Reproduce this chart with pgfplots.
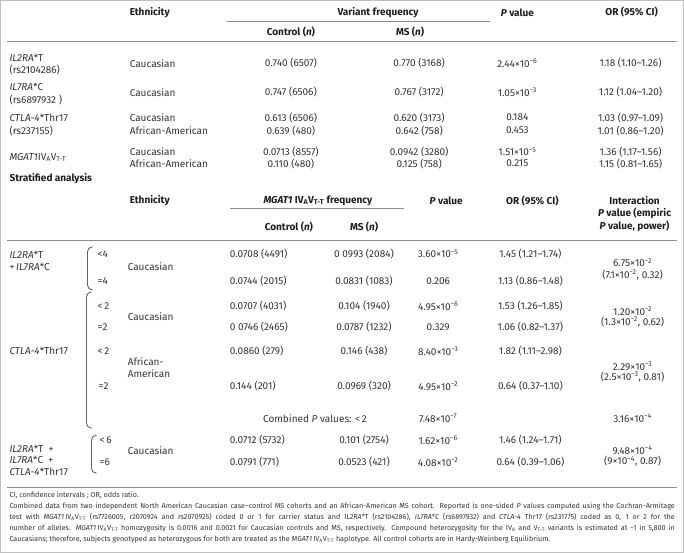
\documentclass[border=0pt]{standalone}
\usepackage{pgfplots}
\pgfplotsset{compat=1.18}
\usepackage{fontspec}
\setmainfont{Fira Sans}
\definecolor{txt}{HTML}{333333}
\definecolor{hdr}{HTML}{1E1E1E}
\definecolor{rule}{HTML}{8C8C8C}
\newcommand{\sx}[1]{\textsuperscript{#1}}
\newcommand{\tm}{\texttimes}
\newcommand{\mg}{\textit{MGAT1}\,IV\textsubscript{A}V\textsubscript{T-T}}
\tikzset{
  b/.style={font=\fontsize{10bp}{12bp}\selectfont, text=txt, inner sep=0pt},
  h/.style={font=\fontsize{10bp}{12bp}\selectfont\bfseries, text=hdr, inner sep=0pt},
  f/.style={font=\fontsize{7.2bp}{11.2bp}\selectfont, text=txt, inner sep=0pt},
}
\begin{document}
\begin{tikzpicture}
\begin{axis}[
  scale only axis, width=684bp, height=553bp,
  xmin=0, xmax=684, ymin=0, ymax=553, y dir=reverse,
  hide axis, clip=false,
  every node/.append style={b},
]
% frame
\addplot[draw=black!25, line width=0.6bp] coordinates {(1,1) (683,1) (683,552) (1,552) (1,1)};
% rules
\addplot[draw=rule, line width=0.6bp] coordinates {(227,22) (490,22)};
\addplot[draw=rule, line width=1bp] coordinates {(8,42) (676,42)};
\addplot[draw=rule, line width=0.6bp] coordinates {(230,209) (404,209)};
\addplot[draw=rule, line width=1bp] coordinates {(8,241) (676,241)};
\addplot[draw=rule, line width=0.6bp] coordinates {(8,487) (676,487)};

% ---------- header section 1
\node[h,anchor=west] at (130,13) {Ethnicity};
\node[h] at (378,13) {Variant frequency};
\node[h] at (517,13) {\textit{P} value};
\node[h] at (631,13) {OR (95\% CI)};
\node[h] at (291,33) {Control (\textit{n})};
\node[h] at (410,33) {MS (\textit{n})};

% ---------- section 1 rows
\node[b,anchor=west] at (10,58) {\textit{IL2RA}*T};
\node[b,anchor=west] at (10,71) {(rs2104286)};
\node[b,anchor=west] at (130,64) {Caucasian};
\node[b] at (291,64) {0.740 (6507)};
\node[b] at (419,64) {0.770 (3168)};
\node[b] at (517,64) {2.44\tm10\sx{−6}};
\node[b] at (630,64) {1.18 (1.10–1.26)};

\node[b,anchor=west] at (10,87) {\textit{IL7RA}*C};
\node[b,anchor=west] at (10,100) {(rs6897932 )};
\node[b,anchor=west] at (130,93) {Caucasian};
\node[b] at (291,93) {0.747 (6506)};
\node[b] at (419,93) {0.767 (3172)};
\node[b] at (517,93) {1.05\tm10\sx{−3}};
\node[b] at (630,93) {1.12 (1.04–1.20)};

\node[b,anchor=west] at (10,118) {\textit{CTLA-4}*Thr17};
\node[b,anchor=west] at (10,131) {(rs237155)};
\node[b,anchor=west] at (130,118) {Caucasian};
\node[b] at (291,118) {0.613 (6506)};
\node[b] at (419,118) {0.620 (3173)};
\node[b] at (517,118) {0.184};
\node[b] at (630,118) {1.03 (0.97–1.09)};
\node[b,anchor=west] at (130,131) {African-American};
\node[b] at (291,131) {0.639 (480)};
\node[b] at (419,131) {0.642 (758)};
\node[b] at (517,131) {0.453};
\node[b] at (630,131) {1.01 (0.86–1.20)};

\node[b,anchor=west] at (10,158) {\textit{MGAT1}IV\textsubscript{A}V\textsubscript{T-T}};
\node[b,anchor=west] at (130,152) {Caucasian};
\node[b] at (291,152) {0.0713 (8557)};
\node[b] at (419,152) {0.0942 (3280)};
\node[b] at (517,152) {1.51\tm10\sx{−5}};
\node[b] at (630,152) {1.36 (1.17–1.56)};
\node[b,anchor=west] at (130,164) {African-American};
\node[b] at (291,164) {0.110 (480)};
\node[b] at (419,164) {0.125 (758)};
\node[b] at (517,164) {0.215};
\node[b] at (630,164) {1.15 (0.81–1.65)};

% ---------- section 2 header
\node[h,anchor=west] at (10,179) {Stratified analysis};
\node[h,anchor=west] at (130,201) {Ethnicity};
\node[h] at (318,201) {\textit{MGAT1} IV\textsubscript{A}V\textsubscript{T-T} frequency};
\node[h] at (446,201) {\textit{P} value};
\node[h] at (532,201) {OR (95\% CI)};
\node[h] at (634,201) {Interaction};
\node[h] at (634,214) {\textit{P} value (empiric};
\node[h] at (634,227) {\textit{P} value, power)};
\node[h] at (289,227) {Control (\textit{n})};
\node[h] at (364,227) {MS (\textit{n})};

% brackets
\draw[rule!70!black, line width=0.9bp] (93,247) to[out=180,in=90] (88,252) -- (88,285) to[out=270,in=180] (93,290);
\draw[rule!70!black, line width=0.9bp] (92,292) to[out=180,in=90] (87,297) -- (87,423) to[out=270,in=180] (92,428);
\draw[rule!70!black, line width=0.9bp] (97,435) to[out=180,in=90] (92,440) -- (92,468) to[out=270,in=180] (97,473);

% group 1
\node[b,anchor=west] at (10,255) {\textit{IL2RA}*T};
\node[b,anchor=west] at (10,267) {+\,\textit{IL7RA}*C};
\node[b,anchor=west] at (98,254) {<4};
\node[b,anchor=west] at (98,281) {=4};
\node[b,anchor=west] at (128,267) {Caucasian};
\node[b,anchor=west] at (230,254) {0.0708 (4491)};
\node[b] at (364,254) {0 0993 (2084)};
\node[b] at (438,254) {3.60\tm10\sx{−5}};
\node[b] at (530,254) {1.45 (1.21–1.74)};
\node[b,anchor=west] at (230,281) {0.0744 (2015)};
\node[b] at (364,281) {0.0831 (1083)};
\node[b] at (438,281) {0.206};
\node[b] at (530,281) {1.13 (0.86–1.48)};
\node[b] at (632,263) {6.75\tm10\sx{−2}};
\node[b] at (632,275) {(7.1\tm10\sx{−2}, 0.32)};

% group 2
\node[b,anchor=west] at (10,351) {\textit{CTLA-4}*Thr17};
\node[b,anchor=west] at (98,306) {<\,2};
\node[b,anchor=west] at (98,327) {=2};
\node[b,anchor=west] at (98,351) {<\,2};
\node[b,anchor=west] at (99,386) {=2};
\node[b,anchor=west] at (128,317) {Caucasian};
\node[b,anchor=west] at (128,362) {African-};
\node[b,anchor=west] at (128,374) {American};
\node[b,anchor=west] at (230,306) {0.0707 (4031)};
\node[b] at (364,306) {0.104 (1940)};
\node[b] at (438,306) {4.95\tm10\sx{−6}};
\node[b] at (530,306) {1.53 (1.26–1.85)};
\node[b,anchor=west] at (230,327) {0 0746 (2465)};
\node[b] at (364,327) {0.0787 (1232)};
\node[b] at (438,327) {0.329};
\node[b] at (530,327) {1.06 (0.82–1.37)};
\node[b,anchor=west] at (230,351) {0.0860 (279)};
\node[b] at (364,351) {0.146 (438)};
\node[b] at (438,351) {8.40\tm10\sx{−3}};
\node[b] at (530,351) {1.82 (1.11–2.98)};
\node[b,anchor=west] at (230,386) {0.144 (201)};
\node[b] at (364,386) {0.0969 (320)};
\node[b] at (438,386) {4.95\tm10\sx{−2}};
\node[b] at (530,386) {0.64 (0.37–1.10)};
\node[b] at (632,311) {1.20\tm10\sx{−2}};
\node[b] at (632,322) {(1.3\tm10\sx{−2}, 0.62)};
\node[b] at (632,366) {2.29\tm10\sx{−3}};
\node[b] at (632,377) {(2.5\tm10\sx{−3}, 0.81)};
\node[b] at (315,418) {Combined \textit{P} values: <\,2};
\node[b] at (438,418) {7.48\tm10\sx{−7}};
\node[b] at (632,418) {3.16\tm10\sx{−4}};

% group 3
\node[b,anchor=west] at (10,449) {\textit{IL2RA}*T\ \ +};
\node[b,anchor=west] at (10,460) {\textit{IL7RA}*C\ \ +};
\node[b,anchor=west] at (10,472) {\textit{CTLA-4}*Thr17};
\node[b,anchor=west] at (100,440) {<\,6};
\node[b,anchor=west] at (100,462) {=6};
\node[b,anchor=west] at (128,450) {Caucasian};
\node[b,anchor=west] at (230,440) {0.0712 (5732)};
\node[b] at (364,440) {0.101 (2754)};
\node[b] at (438,440) {1.62\tm10\sx{−6}};
\node[b] at (530,440) {1.46 (1.24–1.71)};
\node[b,anchor=west] at (230,462) {0.0791 (771)};
\node[b] at (364,462) {0.0523 (421)};
\node[b] at (438,462) {4.08\tm10\sx{−2}};
\node[b] at (530,462) {0.64 (0.39–1.06)};
\node[b] at (632,450) {9.48\tm10\sx{−4}};
\node[b] at (632,461) {(9\tm10\sx{−4}, 0.87)};

% footnotes
\node[f,anchor=west] at (10,495) {CI, confidence intervals ; OR, odds ratio.};
\node[f,anchor=north west, text width=664bp, align=justify] at (10,502) {%
Combined data from two independent North American Caucasian case–control MS cohorts and an African-American MS cohort. Reported is one-sided \textit{P} values computed using the Cochran-Armitage\linebreak
test with \mg{} (rs7726005, r2070924 and rs2070925) coded 0 or 1 for carrier status and \textit{IL2RA}*T (rs2104286), \textit{IL7RA}*C (rs6897932) and \textit{CTLA-4} Thr17 (rs231775) coded as 0, 1 or 2 for the\linebreak
number of alleles. \mg{} homozygosity is 0.0016 and 0.0021 for Caucasian controls and MS, respectively. Compound heterozygosity for the IV\textsubscript{A} and V\textsubscript{T-T} variants is estimated at \textasciitilde1 in 5,800 in\linebreak
Caucasians; therefore, subjects genotyped as heterozygous for both are treated as the \mg{} haplotype. All control cohorts are in Hardy-Weinberg Equilibrium.\par};
\end{axis}
\end{tikzpicture}
\end{document}
